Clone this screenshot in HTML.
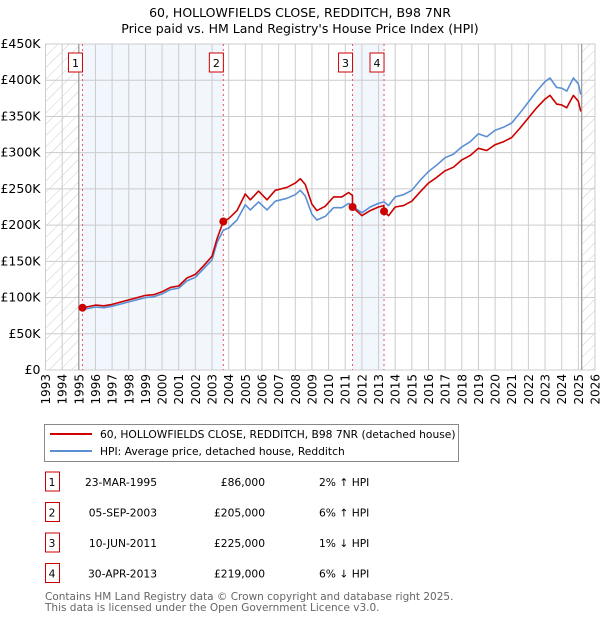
<!DOCTYPE html>
<html><head><meta charset="utf-8"><style>
body{margin:0;background:#fff;width:600px;height:620px;overflow:hidden;font-family:"DejaVu Sans","Liberation Sans",sans-serif;}
svg text{font-family:"DejaVu Sans","Liberation Sans",sans-serif;}
</style></head><body>
<svg id="chart" width="600" height="620" xmlns="http://www.w3.org/2000/svg">
<defs>
<pattern id="hatch" patternUnits="userSpaceOnUse" width="8" height="8" patternTransform="rotate(45)">
<line x1="0" y1="0" x2="0" y2="8" stroke="#ccc" stroke-width="1"/>
</pattern>
</defs>
<text x="300" y="17" text-anchor="middle" font-size="12.5">60, HOLLOWFIELDS CLOSE, REDDITCH, B98 7NR</text>
<text x="300" y="33" text-anchor="middle" font-size="12.5">Price paid vs. HM Land Registry's House Price Index (HPI)</text>
<g id="plot"></g>
<g>
<rect x="44.5" y="424.5" width="414" height="37" fill="#fff" stroke="#888"/>
<line x1="50" y1="434" x2="92" y2="434" stroke="#cc0000" stroke-width="2"/>
<text x="100" y="438" font-size="10.7">60, HOLLOWFIELDS CLOSE, REDDITCH, B98 7NR (detached house)</text>
<line x1="50" y1="451" x2="92" y2="451" stroke="#5b8fd4" stroke-width="2"/>
<text x="100" y="455" font-size="10.7">HPI: Average price, detached house, Redditch</text>
</g>
<g id="table" font-size="10.7"></g>
<text x="45" y="600" font-size="10.5" fill="#666">Contains HM Land Registry data © Crown copyright and database right 2025.</text>
<text x="45" y="611" font-size="10.5" fill="#666">This data is licensed under the Open Government Licence v3.0.</text>
</svg>
<script>
const hpiYears=[1995.2,1995.6,1996,1996.5,1997,1997.5,1998,1998.5,1999,1999.5,2000,2000.5,2001,2001.5,2002,2002.5,2003,2003.3,2003.68,2004,2004.5,2005,2005.3,2005.8,2006.3,2006.8,2007.5,2008,2008.3,2008.6,2009,2009.3,2009.8,2010.3,2010.8,2011.2,2011.44,2012,2012.5,2013,2013.33,2013.6,2014,2014.5,2015,2015.5,2016,2016.5,2017,2017.5,2018,2018.5,2019,2019.5,2020,2020.5,2021,2021.5,2022,2022.5,2023,2023.3,2023.7,2024,2024.3,2024.7,2025,2025.15];
const hpiValues=[84,85,87,86,88,91,94,97,100,101,105,111,113,123,128,140,152,176,193,196,207,228,221,232,221,233,237,242,248,240,215,207,212,224,224,230,226,217,225,230,232,227,239,242,248,262,274,283,293,298,308,315,326,322,331,335,341,355,370,385,398,403,390,389,385,403,395,380];
const priceYears=[1995.2,1995.6,1996,1996.5,1997,1997.5,1998,1998.5,1999,1999.5,2000,2000.5,2001,2001.5,2002,2002.5,2003,2003.3,2003.68,2004,2004.5,2005,2005.3,2005.8,2006.3,2006.8,2007.5,2008,2008.3,2008.6,2009,2009.3,2009.8,2010.3,2010.8,2011.2,2011.43,2011.44,2012,2012.5,2013,2013.32,2013.33,2013.6,2014,2014.5,2015,2015.5,2016,2016.5,2017,2017.5,2018,2018.5,2019,2019.5,2020,2020.5,2021,2021.5,2022,2022.5,2023,2023.3,2023.7,2024,2024.3,2024.7,2025,2025.15];
const priceValues=[86,87.6,89.6,88.6,90.6,93.7,96.8,99.9,103,104,108,114,116,127,132,144,157,181,205,209,220,243,235,247,235,248,252,258,264,256,229,220,226,239,239,245,241,225,213,220,225,227,219,213,225,227,233,246,258,266,275,280,290,296,306,303,311,315,321,334,348,362,374,379,367,366,362,379,371,357];
const saleLabels=["1","2","3","4"];
const saleYears=[1995.22,2003.68,2011.44,2013.33];
const saleValues=[86,205,225,219];
const saleDates=["23-MAR-1995","05-SEP-2003","10-JUN-2011","30-APR-2013"];
const salePrices=["£86,000","£205,000","£225,000","£219,000"];
const saleHpi=["2% ↑ HPI","6% ↑ HPI","1% ↓ HPI","6% ↓ HPI"];
const yTicks=[0,50,100,150,200,250,300,350,400,450];
const yTickLabels=["£0","£50K","£100K","£150K","£200K","£250K","£300K","£350K","£400K","£450K"];
const xStart=1993, xEnd=2026, dataEnd=2025.2;

const L=45.5,R=595,T=44,B=370;
const X=y=>L+(y-xStart)/(xEnd-xStart)*(R-L);
const Y=v=>B-v/450*(B-T);
const NS="http://www.w3.org/2000/svg";
const plot=document.getElementById('plot');
function mk(tag,attrs,parent){const e=document.createElementNS(NS,tag);for(const k in attrs)e.setAttribute(k,attrs[k]);(parent||plot).appendChild(e);return e;}

for(let i=0;i<4;i+=2){
  const r=mk('rect',{x:X(saleYears[i]),y:T,width:X(saleYears[i+1])-X(saleYears[i]),height:B-T,fill:'#eef3fc',opacity:0.75});
  
  
}
const h1=mk('rect',{x:L,y:T,width:X(1995)-L,height:B-T,fill:'url(#hatch)'});


const h2=mk('rect',{x:X(dataEnd),y:T,width:R-X(dataEnd),height:B-T,fill:'url(#hatch)'});


for(let yr=xStart;yr<=xEnd;yr++){
  const g=mk('line',{x1:X(yr),x2:X(yr),y1:T,y2:B,stroke:'#cccccc','stroke-width':1});
  
  
  const tx=X(yr)+4.5, ty=374;
  const t=mk('text',{x:tx,y:ty,'text-anchor':'end','font-size':12,transform:'rotate(-90 '+tx+' '+ty+')'});
  
  
  t.textContent=yr;
}
yTicks.forEach((v,i)=>{
  const g=mk('line',{x1:L,x2:R,y1:Y(v),y2:Y(v),stroke:'#cccccc','stroke-width':1});
  
  
  const t=mk('text',{x:L-5,y:Y(v)+4,'text-anchor':'end','font-size':12.5});
  
  
  t.textContent=yTickLabels[i];
});
[1995,dataEnd].forEach(yr=>{
  const l=mk('line',{x1:X(yr),x2:X(yr),y1:T,y2:B,stroke:'#999','stroke-width':1.2});
  
  
});
saleYears.forEach((yr,i)=>{
  const l=mk('line',{x1:X(yr),x2:X(yr),y1:T,y2:B,stroke:'#ee5555','stroke-width':1,'stroke-dasharray':'2,3'});
  
  
  const r=mk('rect',{x:X(yr)-14,y:53,width:14,height:19,fill:'#fff',stroke:'#cc0000'});
  
  
  const t=mk('text',{x:X(yr)-7,y:67,'text-anchor':'middle','font-size':11});
  
  
  t.textContent=saleLabels[i];
});
function line(xs,vs,color,name){
  const d=xs.map((x,i)=>(i?'L':'M')+X(x).toFixed(1)+','+Y(vs[i]).toFixed(1)).join('');
  const p=mk('path',{d:d,fill:'none',stroke:color,'stroke-width':1.6,'stroke-linejoin':'round'});
  
  
}
line(hpiYears,hpiValues,'#5b8fd4','hpi-line');
line(priceYears,priceValues,'#cc0000','price-paid-line');
saleYears.forEach((yr,i)=>{
  const c=mk('circle',{cx:X(yr),cy:Y(saleValues[i]),r:4,fill:'#cc0000'});
  
  
});
const tb=document.getElementById('table');
saleLabels.forEach((lab,i)=>{
  const y=482+i*30.5;
  const r=mk('rect',{x:45.5,y:y-10,width:14,height:19,fill:'#fff',stroke:'#cc0000'},tb);
  
  
  const cells=[[52,lab,'middle'],[157,saleDates[i],'end'],[265,salePrices[i],'end'],[319,saleHpi[i],'start']];
  cells.forEach(c=>{
    const t=mk('text',{x:c[0],y:y+4,'text-anchor':c[2]},tb);
    
    
    t.textContent=c[1];
  });
});
</script>
</body></html>
